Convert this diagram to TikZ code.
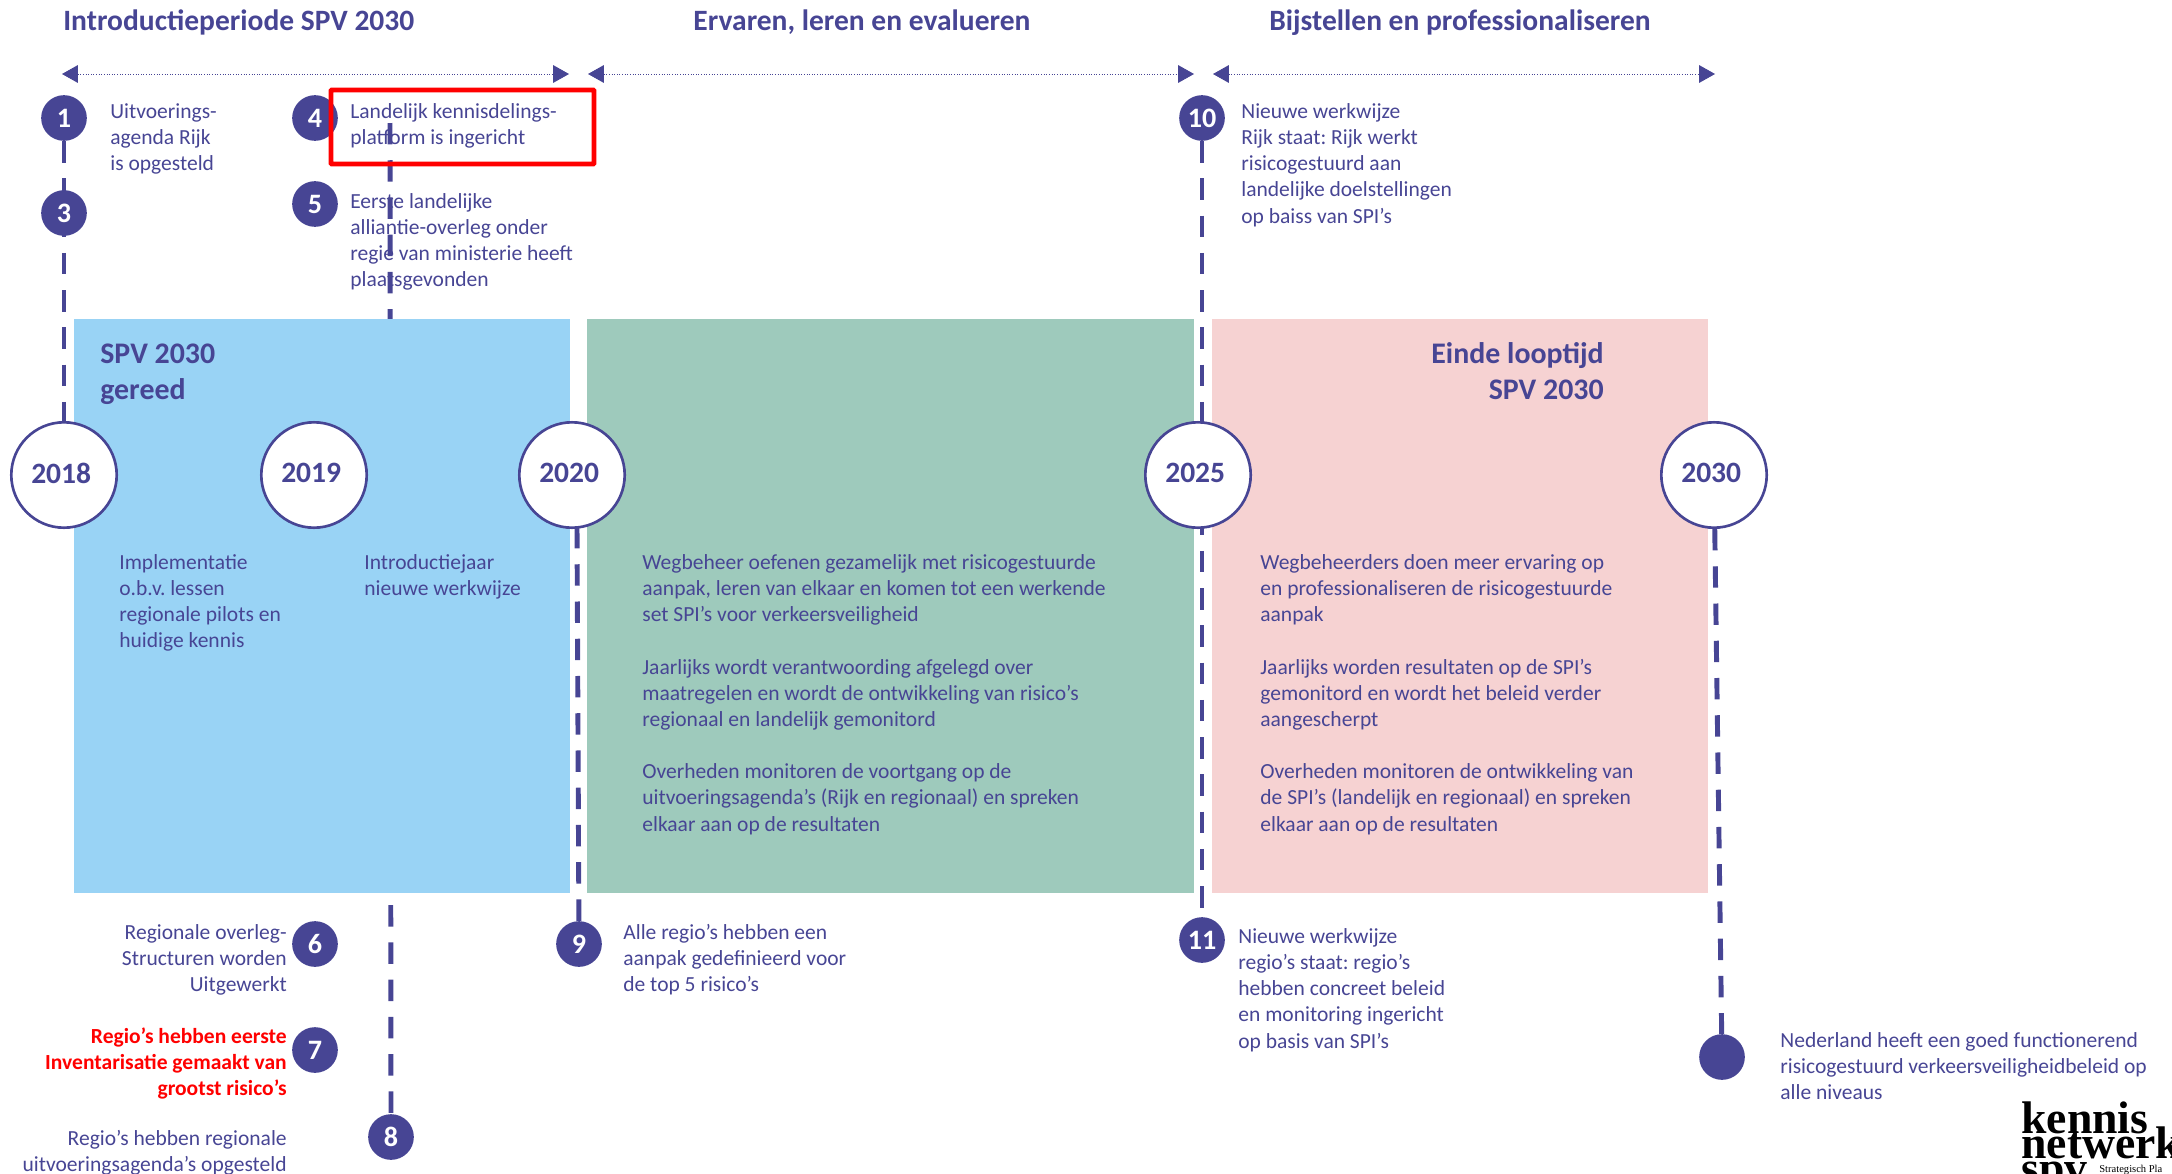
\documentclass[tikz,border=0pt]{standalone}
\usepackage{fontspec}
\setmainfont{Carlito}
\newfontfamily\logofont{Liberation Serif}
\usetikzlibrary{arrows.meta,backgrounds}
\definecolor{spvblauw}{HTML}{474594}
\definecolor{vlakblauw}{HTML}{99D3F5}
\definecolor{vlakgroen}{HTML}{9ECABC}
\definecolor{vlakroze}{HTML}{F6D2D2}
\tikzset{
    tekst/.style={anchor=north west, inner sep=0pt, align=left, text=spvblauw,
        font=\fontsize{12.25}{14.9}\selectfont, execute at begin node=\strut},
    tekstr/.style={tekst, anchor=north east, align=right},
    kop/.style={anchor=base, inner sep=0pt, text=spvblauw,
        font=\fontsize{16.8}{20}\selectfont\bfseries},
    vlaktitel/.style={tekst, font=\fontsize{17}{20.4}\selectfont\bfseries},
    nummer/.style={circle, fill=spvblauw, text=white, minimum size=26pt, inner sep=0pt,
        font=\fontsize{16}{16}\selectfont\bfseries},
    jaar/.style={circle, draw=spvblauw, line width=1.5pt, fill=white, text=spvblauw,
        minimum size=60pt, inner sep=0pt, text depth=2.4pt,
        font=\fontsize{16.8}{17}\selectfont\bfseries, execute at begin node={\hspace*{-3.2pt}}},
    stippen/.style={spvblauw, line width=0.5pt, densely dotted,
        {Triangle[length=9pt,width=10pt]}-{Triangle[length=9pt,width=10pt]}},
    streep/.style={spvblauw, line width=2.8pt, dash pattern=on 12.2pt off 9pt},
    logo/.style={anchor=base west, inner sep=0pt, text=black,
        font=\logofont\fontsize{26}{26}\selectfont\bfseries}
}
\begin{document}
\frenchspacing
\begin{tikzpicture}[x=0.02cm, y=-0.02cm]
    \useasboundingbox (0,0) rectangle (2172,1173);
    \foreach \j/\x in {2018/64, 2019/314, 2020/572, 2025/1198, 2030/1714}
    {
        \node[jaar] (y\j) at (\x,475) {\j};
    }
    \foreach \i/\x/\y in {1/64/118, 3/64/213, 4/315/118, 5/315/204, 6/315/944, 7/315/1050,
        8/391/1137, 9/579/944, 10/1202/118, 11/1202/940}
    {
        \node[nummer] (n\i) at (\x,\y) {\i};
    }
    \node[nummer] (nEind) at (1722,1057) {};

    \coordinate (vier) at (390,123);
    \coordinate (twintig) at (577,527);
    \begin{scope}[on background layer]
        \draw[streep] (n1) -- (y2018);
        \draw[streep] (vier) -- (n8);
        \draw[streep] (twintig) -- (n9);
        \draw[streep] (n10) -- (n11);
        \draw[streep] (y2030) -- (nEind);
        \draw[spvblauw, line width=1.7pt] (y2018) -- (y2019) (y2019) -- (y2020)
            (y2020) -- (y2025) (y2025) -- (y2030);
        \fill[vlakblauw] (74,319) rectangle (570,893);
        \fill[vlakgroen] (587,319) rectangle (1194,893);
        \fill[vlakroze] (1212,319) rectangle (1708,893);
    \end{scope}

    \node[kop, anchor=base west] (kop1) at (63,31) {Introductieperiode SPV 2030};
    \node[kop] (kop2) at (862,31) {Ervaren, leren en evalueren};
    \node[kop] (kop3) at (1460,31) {Bijstellen en professionaliseren};

    \foreach \a/\b/\s in {62/569/1, 588/1194/2, 1213/1715/3}
    {
        \coordinate (links\s) at (\a,74);
        \coordinate (rechts\s) at (\b,74);
        \draw[stippen] (links\s) -- (rechts\s);
    }

    \node[tekst] (t1) at (110,103) {Uitvoerings-\\agenda Rijk\\is opgesteld};
    \node[tekst] (t4) at (350,103) {Landelijk kennisdelings-\\platform is ingericht};
    \draw[red, line width=2.8pt, rounded corners=0.5pt] (331,90) rectangle (594,164);
    \node[tekst] (t5) at (350,193) {Eerste landelijke\\alliantie-overleg onder\\regie van ministerie heeft\\plaatsgevonden};
    \node[tekst] (t10) at (1241,103) {Nieuwe werkwijze\\Rijk staat: Rijk werkt\\risicogestuurd aan\\landelijke doelstellingen\\op baiss van SPI’s};

    \node[vlaktitel] (titel1) at (100,344) {SPV 2030\\gereed};
    \node[vlaktitel, anchor=north east, align=right] (titel2) at (1604,342) {Einde looptijd\\SPV 2030};

    \node[tekst] (t2018) at (119,554) {Implementatie\\o.b.v. lessen\\regionale pilots en\\huidige kennis};
    \node[tekst] (t2019) at (364,554) {Introductiejaar\\nieuwe werkwijze};
    \node[tekst] (tgroen) at (642,554) {Wegbeheer oefenen gezamelijk met risicogestuurde\\aanpak, leren van elkaar en komen tot een werkende\\set SPI’s voor verkeersveiligheid\\[14.9pt]Jaarlijks wordt verantwoording afgelegd over\\maatregelen en wordt de ontwikkeling van risico’s\\regionaal en landelijk gemonitord\\[14.9pt]Overheden monitoren de voortgang op de\\uitvoeringsagenda’s (Rijk en regionaal) en spreken\\elkaar aan op de resultaten};
    \node[tekst] (troze) at (1260,554) {Wegbeheerders doen meer ervaring op\\en professionaliseren de risicogestuurde\\aanpak\\[14.9pt]Jaarlijks worden resultaten op de SPI’s\\gemonitord en wordt het beleid verder\\aangescherpt\\[14.9pt]Overheden monitoren de ontwikkeling van\\de SPI’s (landelijk en regionaal) en spreken\\elkaar aan op de resultaten};

    \node[tekstr] (t6) at (287,924) {Regionale overleg-\\Structuren worden\\Uitgewerkt};
    \node[tekstr, text=red, font=\fontsize{12.25}{14.9}\selectfont\bfseries] (t7) at (287,1027) {Regio’s hebben eerste\\Inventarisatie gemaakt van\\grootst risico’s};
    \node[tekstr] (t8) at (287,1130) {Regio’s hebben regionale\\uitvoeringsagenda’s opgesteld};
    \node[tekst] (t9) at (623,924) {Alle regio’s hebben een\\aanpak gedefinieerd voor\\de top 5 risico’s};
    \node[tekst] (t11) at (1238,928) {Nieuwe werkwijze\\regio’s staat: regio’s\\hebben concreet beleid\\en monitoring ingericht\\op basis van SPI’s};
    \node[tekst] (tEind) at (1780,1032) {Nederland heeft een goed functionerend\\risicogestuurd verkeersveiligheidbeleid op\\alle niveaus};

    \begin{scope}
        \clip (0,0) rectangle (2172,1173);
        \node[logo] (logo1) at (2021,1133) {kennis};
        \node[logo] (logo2) at (2021,1158) {netwerk};
        \node[logo] (logo3) at (2021,1183) {spv};
        \node[logo, font=\logofont\fontsize{6}{6}\selectfont] (logo4) at (2099,1172) {Strategisch Pla};
    \end{scope}
\end{tikzpicture}
\end{document}
